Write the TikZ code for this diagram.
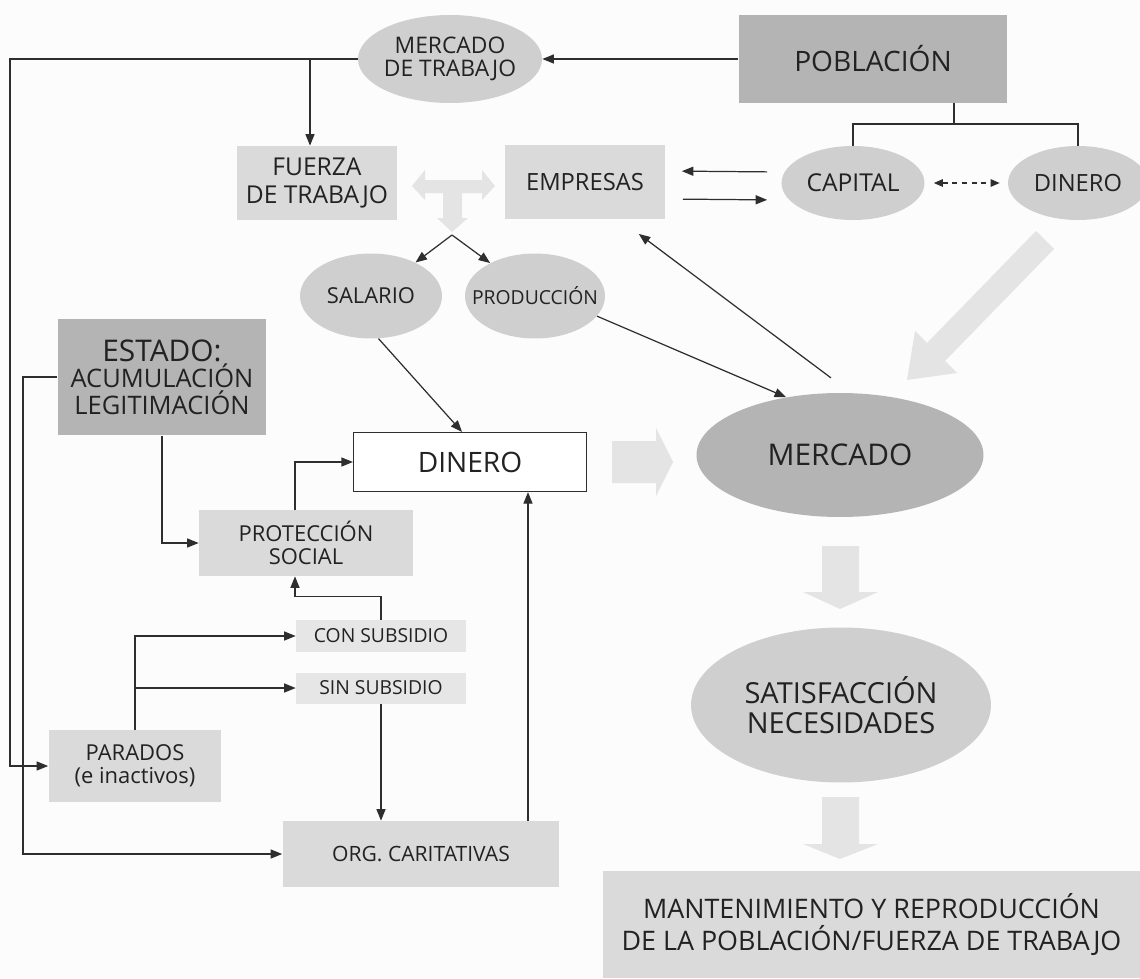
\documentclass[tikz,border=0pt]{standalone}
\usepackage{fontspec}
\setmainfont{Open Sans}
\usetikzlibrary{arrows.meta,shapes.geometric}

\definecolor{fondo}{HTML}{FCFCFC}
\definecolor{gris}{HTML}{DADADA}
\definecolor{grisclaro}{HTML}{E6E6E6}
\definecolor{grisoval}{HTML}{CFCFCF}
\definecolor{grisosc}{HTML}{B4B4B4}
\definecolor{flecha}{HTML}{E4E4E4}
\definecolor{trazo}{HTML}{2E2E2E}
\definecolor{texto}{HTML}{222222}

\newcommand{\tam}[2]{\fontsize{#1}{#2}\selectfont}

\begin{document}
\begin{tikzpicture}[x=0.02cm, y=-0.02cm,
    caja/.style={rectangle, fill=gris, inner sep=0pt, align=center, text=texto},
    cajaosc/.style={caja, fill=grisosc},
    ovalo/.style={ellipse, fill=grisoval, inner xsep=-6mm, inner ysep=-4mm, align=center, text=texto},
    lin/.style={draw=trazo, line width=0.7pt},
    flechan/.style={lin, -{Triangle[length=2.3mm,width=1.8mm]}},
    flechad/.style={lin, dash pattern=on 3pt off 2.5pt, {Triangle[length=1.8mm,width=1.5mm]}-{Triangle[length=1.8mm,width=1.5mm]}},
    gorda/.style={fill=flecha}]
    \fill[fondo] (0,0) rectangle (1140,978);
    \useasboundingbox (0,0) rectangle (1140,978);

    % flechas anchas
    \fill[gorda] (412,186) -- (425,170) -- (425,180) -- (482,180) -- (482,170) -- (495,186)
        -- (482,200) -- (482,193) -- (462,193) -- (462,218) -- (468,218) -- (452,232)
        -- (437,218) -- (443,218) -- (443,193) -- (425,193) -- (425,200) -- cycle;
    \fill[gorda] (612,441) -- (656,441) -- (656,428) -- (673,462) -- (656,496) -- (656,483) -- (612,483) -- cycle;
    \fill[gorda] (1036,231) -- (1054,249) -- (945,361) -- (957,373) -- (907,380) -- (915,331) -- (927,343) -- cycle;
    \foreach \ya/\yb/\yc in {546/592/609, 797/844/859}
        \fill[gorda] (822,\ya) -- (859,\ya) -- (859,\yb) -- (878,\yb) -- (840,\yc) -- (803,\yb) -- (822,\yb) -- cycle;

    \node[cajaosc, minimum width=5.38cm, minimum height=1.76cm, font=\tam{16}{17}] (pob) at (873,59) {POBLACIÓN};
    \node[ovalo, minimum width=3.68cm, minimum height=1.76cm, font=\tam{13}{13.5}] (mdt) at (450,59) {MERCADO\\DE TRABAJO};
    \node[caja, minimum width=3.2cm, minimum height=1.48cm, font=\tam{14}{15.5}] (fza) at (317,183) {FUERZA\\DE TRABAJO};
    \node[caja, minimum width=3.22cm, minimum height=1.5cm, font=\tam{13.5}{14}] (emp) at (585,182) {EMPRESAS};
    \node[ovalo, minimum width=2.86cm, minimum height=1.48cm, font=\tam{14}{15}] (cap) at (853,183) {CAPITAL};
    \node[ovalo, minimum width=2.8cm, minimum height=1.48cm, font=\tam{13.5}{14}] (dinp) at (1078,183) {DINERO};
    \node[ovalo, minimum width=2.84cm, minimum height=1.7cm, font=\tam{12.5}{13}] (sal) at (371,296) {SALARIO};
    \node[ovalo, minimum width=2.8cm, minimum height=1.7cm, font=\tam{11}{12}] (prod) at (535,296) {PRODUCCIÓN};
    \node[cajaosc, minimum width=4.18cm, minimum height=2.34cm, font=\tam{14.5}{15}] (est) at (162,377)
        {{\tam{17}{17}ESTADO:}\\ACUMULACIÓN\\LEGITIMACIÓN};
    \node[draw=trazo, fill=white, line width=0.7pt, minimum width=4.66cm, minimum height=1.18cm, inner sep=0pt,
        text=texto, font=\tam{16}{17}] (dinc) at (470,462) {DINERO};
    \node[ovalo, fill=grisosc, minimum width=5.74cm, minimum height=2.48cm, font=\tam{17}{18}] (merc) at (840,455) {MERCADO};
    \node[caja, minimum width=4.28cm, minimum height=1.32cm, font=\tam{12.5}{13}] (prot) at (306,543) {PROTECCIÓN\\SOCIAL};
    \node[caja, fill=grisclaro, minimum width=3.4cm, minimum height=0.64cm, font=\tam{11}{12}] (csub) at (381,636) {CON SUBSIDIO};
    \node[caja, fill=grisclaro, minimum width=3.4cm, minimum height=0.62cm, font=\tam{11}{12}] (ssub) at (381,688) {SIN SUBSIDIO};
    \node[caja, minimum width=3.46cm, minimum height=1.44cm, font=\tam{12.5}{13}] (par) at (135,766) {PARADOS\\(e inactivos)};
    \node[caja, minimum width=5.54cm, minimum height=1.32cm, font=\tam{12}{13}] (org) at (421,854) {ORG. CARITATIVAS};
    \node[ovalo, minimum width=6cm, minimum height=3.1cm, font=\tam{16.5}{17}] (sat) at (841,705) {SATISFACCIÓN\\NECESIDADES};
    \node[caja, minimum width=10.74cm, minimum height=2.14cm, font=\tam{15.3}{17.8}] (mant) at (871.5,924.5)
        {MANTENIMIENTO Y REPRODUCCIÓN\\DE LA POBLACIÓN/FUERZA DE TRABAJO};

    \coordinate (esq) at (10,59);
    \coordinate (baj) at (310,59);
    \coordinate (rama) at (954,124);
    \coordinate (hor) at (452,235);
    \coordinate (izq) at (23,377);
    \coordinate (sube) at (528,821);

    \draw[flechan] (pob.west) -- (mdt.east);
    \draw[flechan] (mdt.west) -- (esq) |- (par.west);
    \draw[flechan] (baj) -- (baj |- fza.north);
    \draw[lin] (rama |- pob.south) -- (rama);
    \draw[lin] (cap.north) |- (rama) -| (dinp.north);
    \draw[flechan, shorten <=2.8mm, shorten >=3.2mm] ([yshift=2.2mm]cap.west) -- ([yshift=2.2mm]emp.east);
    \draw[flechan, shorten <=3.4mm, shorten >=2.8mm] ([yshift=-3.4mm]emp.east) -- ([yshift=-3.4mm]cap.west);
    \draw[flechad, shorten <=1.8mm, shorten >=1.6mm] (cap.east) -- (dinp.west);
    \draw[flechan] (hor) -- (sal);
    \draw[flechan] (hor) -- (prod);
    \draw[flechan] (sal.-80) -- ([xshift=-1.6mm]dinc.north);
    \draw[flechan] (prod.-18) -- (merc.133);
    \draw[flechan, shorten <=5mm, shorten >=4.7mm] (merc.80) -- ([xshift=7mm]emp.south);
    %
    \draw[flechan] (est.west) -- (izq) |- (org.west);
    \draw[flechan] (est.south) |- (prot.west);
    \draw[flechan] ([xshift=-2.2mm]prot.north) |- (dinc.west);
    \draw[flechan] (csub.north) -- ++(0,-23) -| ([xshift=-2.2mm]prot.south);
    \draw[flechan] (par.north) |- (csub.west);
    \draw[flechan] (par.north |- ssub.west) -- (ssub.west);
    \draw[flechan] (ssub.south) -- (ssub.south |- org.north);
    \draw[flechan] (sube) -- (sube |- dinc.south);
\end{tikzpicture}
\end{document}
